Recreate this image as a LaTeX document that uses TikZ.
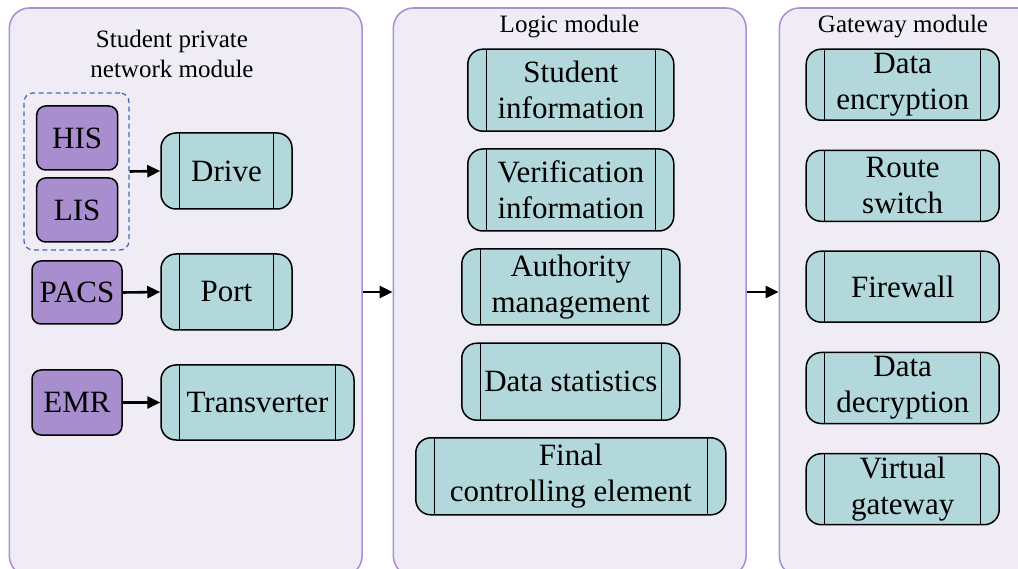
\documentclass[tikz,border=0pt]{standalone}
\usepackage{fontspec}
\setmainfont{Liberation Serif}
\newfontfamily\serifbody{Liberation Serif}
\usetikzlibrary{arrows.meta}
\definecolor{panelfill}{HTML}{F0ECF5}
\definecolor{panelline}{HTML}{AB90D3}
\definecolor{srcfill}{HTML}{A98ECF}
\definecolor{procfill}{HTML}{B3D8DC}
\definecolor{grpline}{HTML}{3F6DB3}
\newcommand{\boxfont}{\serifbody\fontsize{31}{36}\selectfont}
\newcommand{\titlefont}{\serifbody\fontsize{25}{30}\selectfont}
\tikzset{
  panel/.style={draw=panelline, fill=panelfill, line width=1.6pt, rounded corners=20pt, inner sep=0pt},
  srcbox/.style={draw=black, fill=srcfill, line width=1.5pt, rounded corners=9pt, inner sep=0pt, font=\boxfont},
  procbox/.style={draw=black, fill=procfill, line width=1.5pt, rounded corners=15pt, inner sep=0pt, align=center, font=\boxfont,
    path picture={
      \draw[line width=1.5pt] ([xshift=18.5pt]path picture bounding box.north west) -- ([xshift=18.5pt]path picture bounding box.south west);
      \draw[line width=1.5pt] ([xshift=-18.5pt]path picture bounding box.north east) -- ([xshift=-18.5pt]path picture bounding box.south east);
    }},
  grpbox/.style={draw=grpline, dashed, dash pattern=on 5pt off 3.5pt, line width=1.3pt, rounded corners=9pt, inner sep=0pt},
  title/.style={align=center, font=\titlefont, inner sep=0pt},
  arr/.style={line width=2.6pt, -{Triangle[length=13pt,width=12pt]}}
}
\begin{document}
\begin{tikzpicture}[x=1pt,y=-1pt]
\useasboundingbox (0,0) rectangle (1018,569);
% panels
\node[panel, minimum width=352.7pt, minimum height=568pt] (P1) at (185.7,292) {};
\node[panel, minimum width=352.7pt, minimum height=568pt] (P2) at (569.7,292) {};
\node[panel, minimum width=352.7pt, minimum height=568pt] (P3) at (955.7,292) {};
% titles
\node[title] (T1) at (172,54) {Student private\\network module};
\node[title] (T2) at (569.5,27) {Logic module};
\node[title] (T3) at (903,27) {Gateway module};
% left module
\node[grpbox, minimum width=105pt, minimum height=157pt] (grp) at (76.5,171.5) {};
\node[srcbox, minimum width=81pt, minimum height=64pt] (his) at (77.2,138) {HIS};
\node[srcbox, minimum width=81pt, minimum height=64pt] (lis) at (77.2,210) {LIS};
\node[srcbox, minimum width=90pt, minimum height=63pt] (pacs) at (77,292.5) {PACS};
\node[srcbox, minimum width=90pt, minimum height=65pt] (emr) at (77,402.5) {EMR};
\node[procbox, minimum width=131pt, minimum height=76pt] (drive) at (226.5,171) {Drive};
\node[procbox, minimum width=131pt, minimum height=76pt] (port) at (226.5,292) {Port};
\node[procbox, minimum width=193pt, minimum height=75pt] (trans) at (257.5,402.5) {Transverter};
\draw[arr] (grp.east) -- (drive.west);
\draw[arr] (pacs.east) -- (port.west);
\draw[arr] (emr.east) -- (trans.west);
% logic module
\node[procbox, minimum width=206pt, minimum height=82pt] (stu) at (570.8,90.2) {Student\\information};
\node[procbox, minimum width=206pt, minimum height=82pt] (ver) at (570.8,190) {Verification\\information};
\node[procbox, minimum width=218pt, minimum height=76pt] (auth) at (570.8,287) {Authority\\management};
\node[procbox, minimum width=218pt, minimum height=77pt] (stat) at (570.8,381.7) {Data statistics};
\node[procbox, minimum width=310pt, minimum height=77pt] (fin) at (570.8,476.3) {Final\\controlling element};
% gateway module
\node[procbox, minimum width=193pt, minimum height=71pt] (enc) at (902.7,84.7) {Data\\encryption};
\node[procbox, minimum width=193pt, minimum height=71pt] (route) at (902.7,185.8) {Route\\switch};
\node[procbox, minimum width=193pt, minimum height=71pt] (fw) at (902.7,286.7) {Firewall};
\node[procbox, minimum width=193pt, minimum height=71pt] (dec) at (902.7,388) {Data\\decryption};
\node[procbox, minimum width=193pt, minimum height=71pt] (vg) at (902.7,489.2) {Virtual\\gateway};
% inter-module arrows
\draw[arr] (P1.east) -- (P2.west);
\draw[arr] (P2.east) -- (P3.west);
\end{tikzpicture}
\end{document}
